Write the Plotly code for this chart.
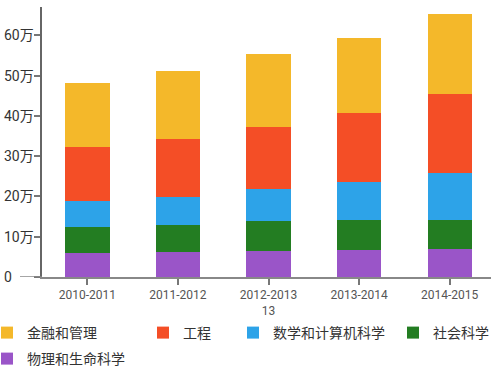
import plotly.graph_objects as go

categories = ["2010-2011", "2011-2012", "2012-2013<br>13", "2013-2014", "2014-2015"]
series_names = ["物理和生命科学", "社会科学", "数学和计算机科学", "工程", "金融和管理"]
physics = [60000, 63000, 65000, 67000, 69000]
social = [64000, 65000, 74000, 75000, 72000]
math_cs = [65000, 71000, 79000, 93000, 116000]
engineering = [134000, 143000, 154000, 171000, 197000]
finance = [158000, 168000, 181000, 188000, 199000]
y_tick_vals = [0, 100000, 200000, 300000, 400000, 500000, 600000]
y_tick_text = ["0", "10万", "20万", "30万", "40万", "50万", "60万"]

colors = ["#9A55C8", "#237D22", "#2DA3E8", "#F44E26", "#F4B82A"]
values = [physics, social, math_cs, engineering, finance]

W, H = 491, 370
L, R, T, B = 42, 0, 7, 93
PW = W - L - R
PH = H - T - B

FONT = "Roboto, 'Noto Sans CJK SC', sans-serif"

# legend placement (figure pixels of legend left edge, top edge)
legend_pos = {
    "金融和管理": (-13, 317),
    "工程": (143, 317),
    "数学和计算机科学": (233, 317),
    "社会科学": (393, 317),
    "物理和生命科学": (-13, 343),
}

fig = go.Figure()
legend_layouts = {}
for i, (name, vals, col) in enumerate(zip(series_names, values, colors)):
    lname = "legend" if i == 0 else f"legend{i+1}"
    fig.add_trace(go.Bar(x=categories, y=vals, name=name, marker=dict(color=col, line=dict(width=0)),
                         legend=lname))
    px, py = legend_pos[name]
    legend_layouts[lname] = dict(
        x=(px - L) / PW, y=1 - (py - T) / PH, xanchor="left", yanchor="top",
        orientation="h", bgcolor="rgba(0,0,0,0)", borderwidth=0,
        font=dict(family=FONT, size=14, color="#333333"),
        itemclick=False, itemdoubleclick=False, tracegroupgap=0,
    )

annotations = []
for v, t in zip(y_tick_vals, y_tick_text):
    annotations.append(dict(x=(2 - L) / PW, xref="paper", xanchor="left", y=v, yref="y",
                            yanchor="middle", text=t, showarrow=False,
                            font=dict(family=FONT, size=14, color="#333333")))

fig.update_layout(
    width=W, height=H,
    margin=dict(l=L, r=R, t=T, b=B, autoexpand=False),
    barmode="stack",
    bargap=0.51,
    plot_bgcolor="white", paper_bgcolor="white",
    showlegend=True,
    annotations=annotations,
    xaxis=dict(
        range=[-0.5, -0.5 + PW / 90.6],
        showline=True, linecolor="#888888", linewidth=1.5,
        ticks="outside", ticklen=6, tickcolor="#777777", tickwidth=1.5,
        tickfont=dict(family=FONT, size=12, color="#555555"),
        showgrid=False, zeroline=False, fixedrange=True,
    ),
    yaxis=dict(
        range=[0, 670000],
        tickvals=y_tick_vals,
        showticklabels=False,
        showline=True, linecolor="#666666", linewidth=1.5,
        ticks="outside", ticklen=6, tickcolor="#777777", tickwidth=1.5,
        showgrid=False, zeroline=False, fixedrange=True,
    ),
    shapes=[dict(type="line", xref="paper", yref="y", x0=(20 - L) / PW, x1=0, y0=0, y1=0,
                 line=dict(color="#888888", width=1.5))],
    **legend_layouts,
)

fig.write_html("out.html", config={"displayModeBar": False},
               post_script="document.body.style.margin='0';document.body.style.padding='0';")
